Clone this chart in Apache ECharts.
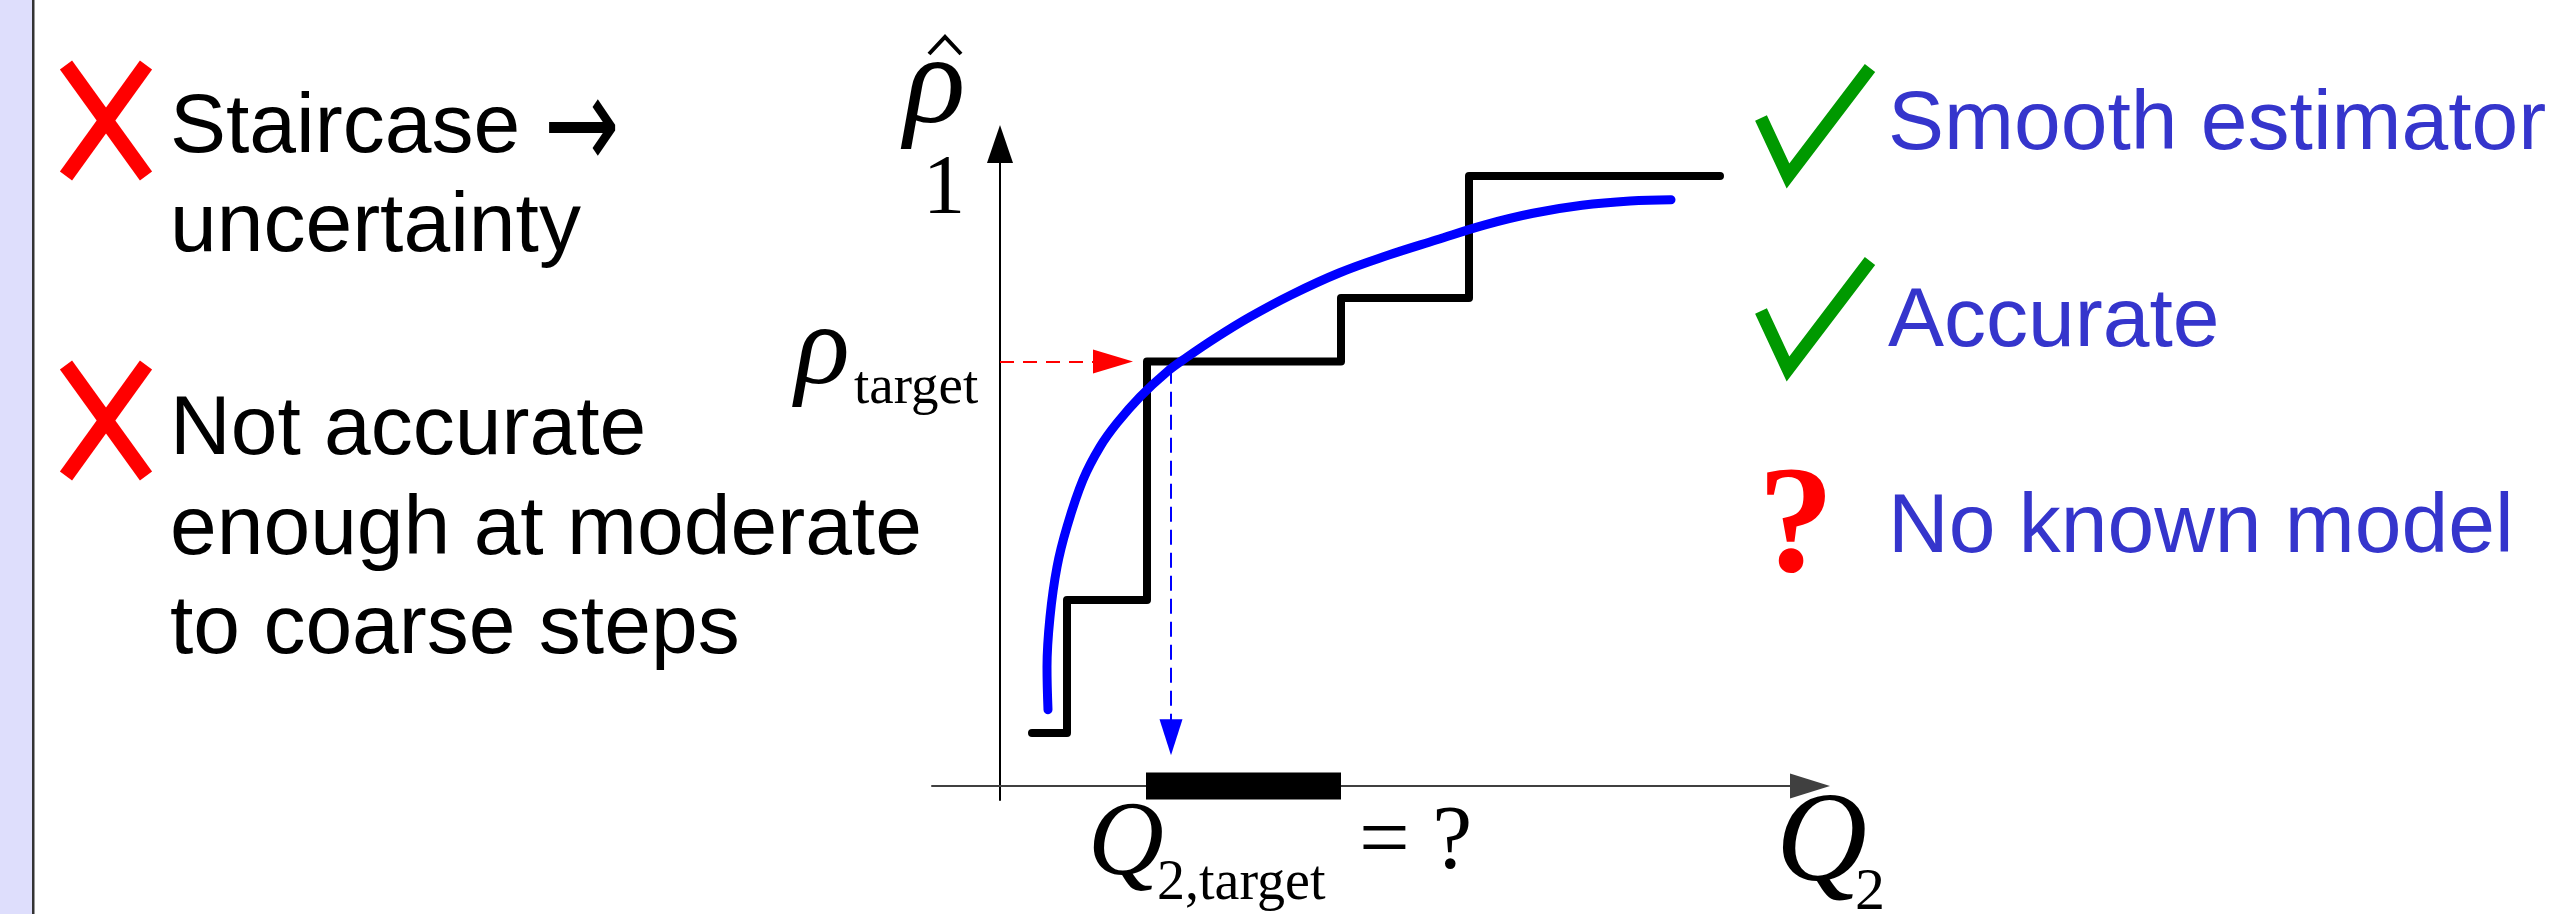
<!DOCTYPE html>
<html>
<head>
<meta charset="utf-8">
<script src="https://cdn.jsdelivr.net/npm/echarts@6/dist/echarts.min.js"></script>
<style>
  html, body { margin: 0; padding: 0; background: #fff; }
  #main { width: 2550px; height: 914px; }
</style>
</head>
<body>
<div id="main"></div>
<script>
// staircase estimator (empirical rho-hat vs Q2)
var stairQ = [0.32, 0.67, 0.67, 1.47, 1.47, 3.41, 3.41, 4.69, 4.69, 7.20];
var stairRho = [0.087, 0.087, 0.305, 0.305, 0.696, 0.696, 0.800, 0.800, 1.000, 1.000];

// smooth estimator (blue)
var curveQ = [0.48, 0.47, 0.50, 0.57, 0.67, 0.83, 1.00, 1.17, 1.40, 1.67, 1.87, 2.17, 2.50, 2.91, 3.39, 3.88, 4.36, 4.85, 5.33, 5.82, 6.30, 6.71];
var curveRho = [0.125, 0.195, 0.277, 0.359, 0.425, 0.502, 0.556, 0.595, 0.638, 0.679, 0.703, 0.736, 0.769, 0.805, 0.841, 0.870, 0.895, 0.920, 0.939, 0.952, 0.959, 0.961];

// uncertainty interval of Q2,target on the axis
var barQ = [1.46, 3.41];

// target level and the read-off arrows
var rhoTarget = 0.696;
var redArrowQ = [0, 1.13];
var blueArrowQ = 1.71;
var blueArrowRho = [0.684, 0.080];

var leftLines = ['Staircase', 'uncertainty', 'Not accurate', 'enough at moderate', 'to coarse steps'];
var rightLines = ['Smooth estimator', 'Accurate', 'No known model'];

function zip(xs, ys) {
    var out = [];
    for (var i = 0; i < xs.length; i++) {
        out.push([xs[i], ys[i]]);
    }
    return out;
}

var myChart = echarts.init(document.getElementById('main'));

var sans = '"Liberation Sans", Arial, sans-serif';
var serif = '"Liberation Serif", "Times New Roman", serif';

function txt(text, x, y, font, color, align) {
    return {
        type: 'text',
        x: x,
        y: y,
        z: 10,
        style: {
            text: text,
            font: font,
            fill: color || '#000',
            textAlign: align || 'left',
            textVerticalAlign: 'middle'
        }
    };
}

function cross(y0) {
    return [{
        type: 'line', z: 10,
        shape: { x1: 66, y1: y0 + 5, x2: 146, y2: y0 + 116 },
        style: { stroke: '#ff0000', lineWidth: 15, lineCap: 'butt' }
    }, {
        type: 'line', z: 10,
        shape: { x1: 146, y1: y0 + 5, x2: 66, y2: y0 + 116 },
        style: { stroke: '#ff0000', lineWidth: 15, lineCap: 'butt' }
    }];
}

function tick(dy) {
    return {
        type: 'polyline', z: 10,
        shape: { points: [[1761, 118 + dy], [1788, 176 + dy], [1870, 68 + dy]] },
        style: { stroke: '#009900', lineWidth: 13, lineJoin: 'miter', lineCap: 'butt', fill: null }
    };
}

var graphics = [
    { type: 'rect', z: 0, shape: { x: 0, y: 0, width: 32, height: 914 }, style: { fill: '#dedefc' } },
    { type: 'rect', z: 1, shape: { x: 32, y: 0, width: 2.5, height: 914 }, style: { fill: '#333' } }
];
graphics = graphics.concat(cross(60), cross(360));
graphics.push(tick(0), tick(193));

// left bullet text
var leftY = [129, 228, 431, 531, 630];
for (var i = 0; i < leftLines.length; i++) {
    graphics.push(txt(leftLines[i], 170, leftY[i], '84px ' + sans, '#000'));
}
// the big arrow after "Staircase"
var arrow = txt('\u2192', 544, 135, '110px "DejaVu Sans", sans-serif', '#000');
arrow.scaleX = 0.82;
arrow.scaleY = 1.2;
graphics.push(arrow);

// right bullet text
var rightY = [126, 323, 529];
for (var j = 0; j < rightLines.length; j++) {
    graphics.push(txt(rightLines[j], 1888, rightY[j], '84px ' + sans, '#3535cc'));
}
graphics.push(txt('?', 1758, 532, 'bold 152px ' + serif, '#ff0000'));

// math labels
graphics.push(txt('\u03c1', 904, 88, 'italic 128px ' + serif));
graphics.push({
    type: 'polyline', z: 10,
    shape: { points: [[929, 54], [945, 37], [961, 54]] },
    style: { stroke: '#000', lineWidth: 4, fill: null }
});
graphics.push(txt('1', 944, 191, '85px ' + serif, '#000', 'center'));
graphics.push(txt('\u03c1', 795, 353, 'italic 114px ' + serif));
graphics.push(txt('target', 854, 389, '55px ' + serif));
graphics.push(txt('Q', 1088, 846, 'italic 105px ' + serif));
graphics.push(txt('2,target', 1157, 884, '56px ' + serif));
graphics.push(txt('= ?', 1359, 844, '90px ' + serif));
graphics.push(txt('Q', 1776, 847, 'italic 126px ' + serif));
graphics.push(txt('2', 1855, 893, '60px ' + serif));

var option = {
    backgroundColor: '#ffffff',
    animation: false,
    grid: {
        left: 932,
        right: 740,
        top: 144,
        bottom: 114,
        containLabel: false
    },
    xAxis: {
        type: 'value',
        min: -0.68,
        max: 8.1,
        axisLine: {
            onZero: true,
            symbol: ['none', 'triangle'],
            symbolSize: [25, 40],
            lineStyle: { color: '#404040', width: 2 }
        },
        axisTick: { show: false },
        axisLabel: { show: false },
        splitLine: { show: false }
    },
    yAxis: {
        type: 'value',
        min: -0.023,
        max: 1.0525,
        axisLine: {
            show: true,
            onZero: true,
            symbol: ['none', 'triangle'],
            symbolSize: [26, 38],
            lineStyle: { color: '#000', width: 2 }
        },
        axisTick: { show: false },
        axisLabel: { show: false },
        splitLine: { show: false }
    },
    graphic: graphics,
    series: [{
        name: 'interval',
        type: 'line',
        data: [[barQ[0], 0], [barQ[1], 0]],
        symbol: 'none',
        lineStyle: { color: '#000', width: 27, cap: 'butt' },
        z: 3
    }, {
        name: 'staircase',
        type: 'line',
        data: zip(stairQ, stairRho),
        symbol: 'none',
        lineStyle: { color: '#000', width: 8, cap: 'round', join: 'round' },
        z: 4
    }, {
        name: 'arrows',
        type: 'line',
        data: [],
        z: 5,
        markLine: {
            silent: true,
            symbol: ['none', 'triangle'],
            label: { show: false },
            data: [
                [
                    { coord: [redArrowQ[0], rhoTarget], symbolSize: [24, 40], lineStyle: { color: '#ff0000', width: 2, type: [14, 9] } },
                    { coord: [redArrowQ[1], rhoTarget], symbolSize: [24, 40] }
                ],
                [
                    { coord: [blueArrowQ, blueArrowRho[0]], symbolSize: [23, 36], lineStyle: { color: '#0000ff', width: 2, type: [15, 8] } },
                    { coord: [blueArrowQ, blueArrowRho[1]], symbolSize: [23, 36] }
                ]
            ]
        }
    }, {
        name: 'smooth',
        type: 'line',
        data: zip(curveQ, curveRho),
        smooth: 0.4,
        symbol: 'none',
        lineStyle: { color: '#0000ff', width: 9, cap: 'round', join: 'round' },
        z: 6
    }]
};

myChart.setOption(option);
</script>
</body>
</html>
